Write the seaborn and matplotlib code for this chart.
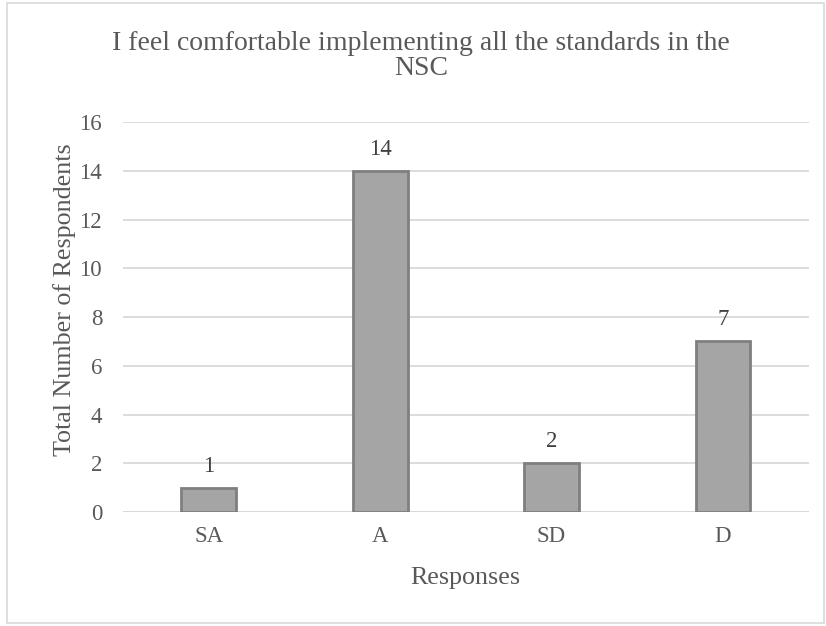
import matplotlib
matplotlib.use("Agg")
import matplotlib.pyplot as plt
import seaborn as sns
import pandas as pd
from matplotlib.patches import Rectangle

responses = ["SA", "A", "SD", "D"]
counts = [1, 14, 2, 7]
y_ticks = [0, 2, 4, 6, 8, 10, 12, 14, 16]

sns.set_theme(style="white")
plt.rcParams["font.family"] = ["Liberation Serif", "DejaVu Serif"]

df = pd.DataFrame({"Responses": responses, "Count": counts})

fig = plt.figure(figsize=(8.26, 6.26), dpi=100)
ax = fig.add_axes([0.1489, 0.1821, 0.979 - 0.1489, 0.8051 - 0.1821])

sns.barplot(data=df, x="Responses", y="Count", order=responses, color="#a5a5a5",
            width=0.32, edgecolor="#7f7f7f", linewidth=2, saturation=1, ax=ax, zorder=3)

ax.set_ylim(0, 16)
ax.set_yticks(y_ticks)
ax.set_xlim(-0.5, len(responses) - 0.5)
ax.yaxis.grid(True, color="#d9d9d9", linewidth=1.3, zorder=0)
ax.set_axisbelow(True)
for s in ax.spines.values():
    s.set_visible(False)
ax.axhline(0, color="#d9d9d9", linewidth=1.3, zorder=2)

ax.tick_params(axis="both", length=0, labelsize=16.5, labelcolor="#595959")
ax.tick_params(axis="x", pad=10)
ax.tick_params(axis="y", pad=15)

ax.set_xlabel("Responses", fontsize=18.7, color="#595959")
ax.set_ylabel("Total Number of Respondents", fontsize=18.7, color="#595959")
ax.xaxis.set_label_coords(0.5, -0.142)
ax.yaxis.set_label_coords(-0.0685, 0.544)

for i, v in enumerate(counts):
    ax.annotate(str(v), (i, v), xytext=(0, 8), textcoords="offset points",
                ha="center", va="bottom", fontsize=16.5, color="#404040")

fig.text(0.51, 0.91, "I feel comfortable implementing all the standards in the\nNSC",
         ha="center", va="center", fontsize=20, color="#595959", linespacing=1.0)

fig.patches.append(Rectangle((0.009, 0.005), 0.988, 0.99, transform=fig.transFigure,
                             fill=False, edgecolor="#d9d9d9", linewidth=1.2))

fig.savefig("out.png", dpi=100, facecolor="white")
